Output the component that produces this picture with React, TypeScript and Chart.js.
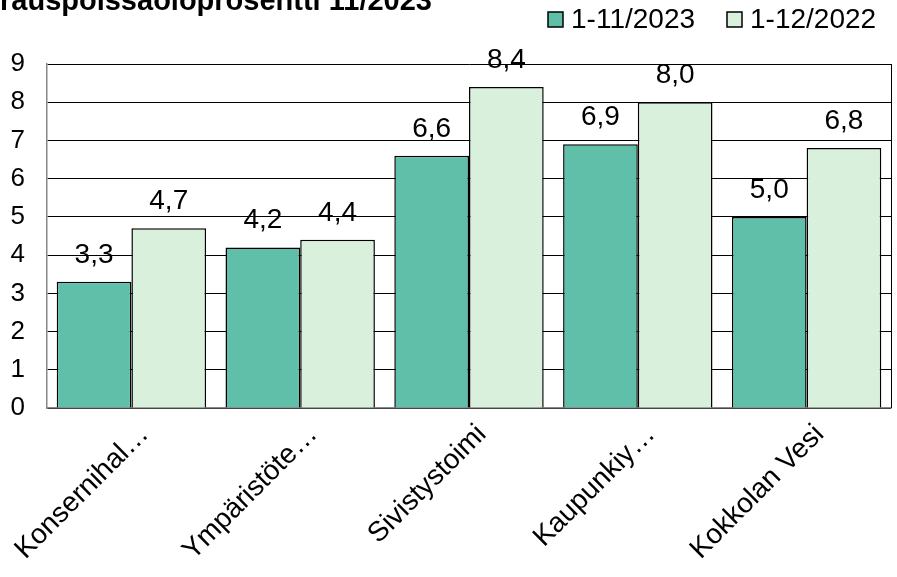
import React, { useEffect, useRef } from "react";
import { Chart, registerables } from "chart.js";
Chart.register(...registerables);

const categories = ["Konsernihal…", "Ympäristöte…", "Sivistystoimi", "Kaupunkiy…", "Kokkolan Vesi"];
const series2023 = [3.3, 4.2, 6.6, 6.9, 5.0];
const series2022 = [4.7, 4.4, 8.4, 8.0, 6.8];
const seriesNames = ["1-11/2023", "1-12/2022"];
const titleText = "rauspoissaoloprosentti 11/2023";
const yTicks = [0, 1, 2, 3, 4, 5, 6, 7, 8, 9];

const FONT = "'Liberation Sans', Arial, sans-serif";
const colors = ["#5fbfa8", "#d9f0dc"];

const overlay = {
  id: "overlay",
  afterDatasetsDraw(chart: any) {
    const { ctx, chartArea } = chart;
    ctx.save();
    // right border
    ctx.strokeStyle = "#000";
    ctx.lineWidth = 1;
    ctx.beginPath();
    ctx.moveTo(Math.round(chartArea.right) + 0.5, chartArea.top);
    ctx.lineTo(Math.round(chartArea.right) + 0.5, chartArea.bottom);
    ctx.stroke();
    // data labels
    ctx.font = `28px ${FONT}`;
    ctx.fillStyle = "#000";
    ctx.textAlign = "center";
    ctx.textBaseline = "alphabetic";
    chart.data.datasets.forEach((ds: any, i: number) => {
      const meta = chart.getDatasetMeta(i);
      meta.data.forEach((bar: any, j: number) => {
        const v = ds.data[j];
        ctx.fillText(v.toFixed(1).replace(".", ","), bar.x, bar.y - 19);
      });
    });
    // title
    ctx.font = `bold 29px ${FONT}`;
    ctx.textAlign = "left";
    ctx.textBaseline = "alphabetic";
    ctx.fillText(titleText, 0, 10);
    // legend
    ctx.font = `28px ${FONT}`;
    ctx.textBaseline = "middle";
    const items = [{ x: 548, t: seriesNames[0], c: colors[0] }, { x: 727, t: seriesNames[1], c: colors[1] }];
    items.forEach((it) => {
      ctx.fillStyle = it.c;
      ctx.fillRect(it.x, 12, 15, 15);
      ctx.strokeStyle = "#000";
      ctx.lineWidth = 1.5;
      ctx.strokeRect(it.x, 12, 15, 15);
      ctx.fillStyle = "#000";
      ctx.fillText(it.t, it.x + 23, 20);
    });
    ctx.restore();
  },
};

export default function App() {
  const ref = useRef<HTMLCanvasElement>(null);
  useEffect(() => {
    const chart = new Chart(ref.current!, {
      type: "bar",
      data: {
        labels: categories,
        datasets: [
          { label: seriesNames[0], data: series2023, backgroundColor: colors[0], borderColor: "#000", borderWidth: 1.5, categoryPercentage: 0.885, barPercentage: 1 },
          { label: seriesNames[1], data: series2022, backgroundColor: colors[1], borderColor: "#000", borderWidth: 1.5, categoryPercentage: 0.885, barPercentage: 1 },
        ],
      },
      options: {
        animation: false,
        responsive: false,
        layout: { padding: { top: 64, right: 6, left: 0, bottom: 0 } },
        plugins: { legend: { display: false }, tooltip: { enabled: false } },
        scales: {
          x: {
            grid: { display: false },
            border: { color: "#888", width: 1.5 },
            ticks: { font: { family: FONT, size: 28 }, color: "#000", maxRotation: 45, minRotation: 45, padding: 2, labelOffset: 13, autoSkip: false },
            afterFit: (s: any) => { s.height = 169; s.paddingLeft = 0; s.paddingRight = 0; },
          },
          y: {
            min: 0,
            max: 9,
            afterBuildTicks: (s: any) => { s.ticks = yTicks.map((v) => ({ value: v })); },
            grid: { color: "#000", lineWidth: 1, drawTicks: false },
            border: { color: "#888", width: 1.5 },
            ticks: { font: { family: FONT, size: 26 }, color: "#000", padding: 22, stepSize: 1 },
            afterFit: (s: any) => { s.width = 47; },
          },
        },
      },
      plugins: [overlay],
    });
    return () => chart.destroy();
  }, []);
  return <canvas ref={ref} width={897} height={577} style={{ display: "block", position: "absolute", left: 0, top: 0 }} />;
}
